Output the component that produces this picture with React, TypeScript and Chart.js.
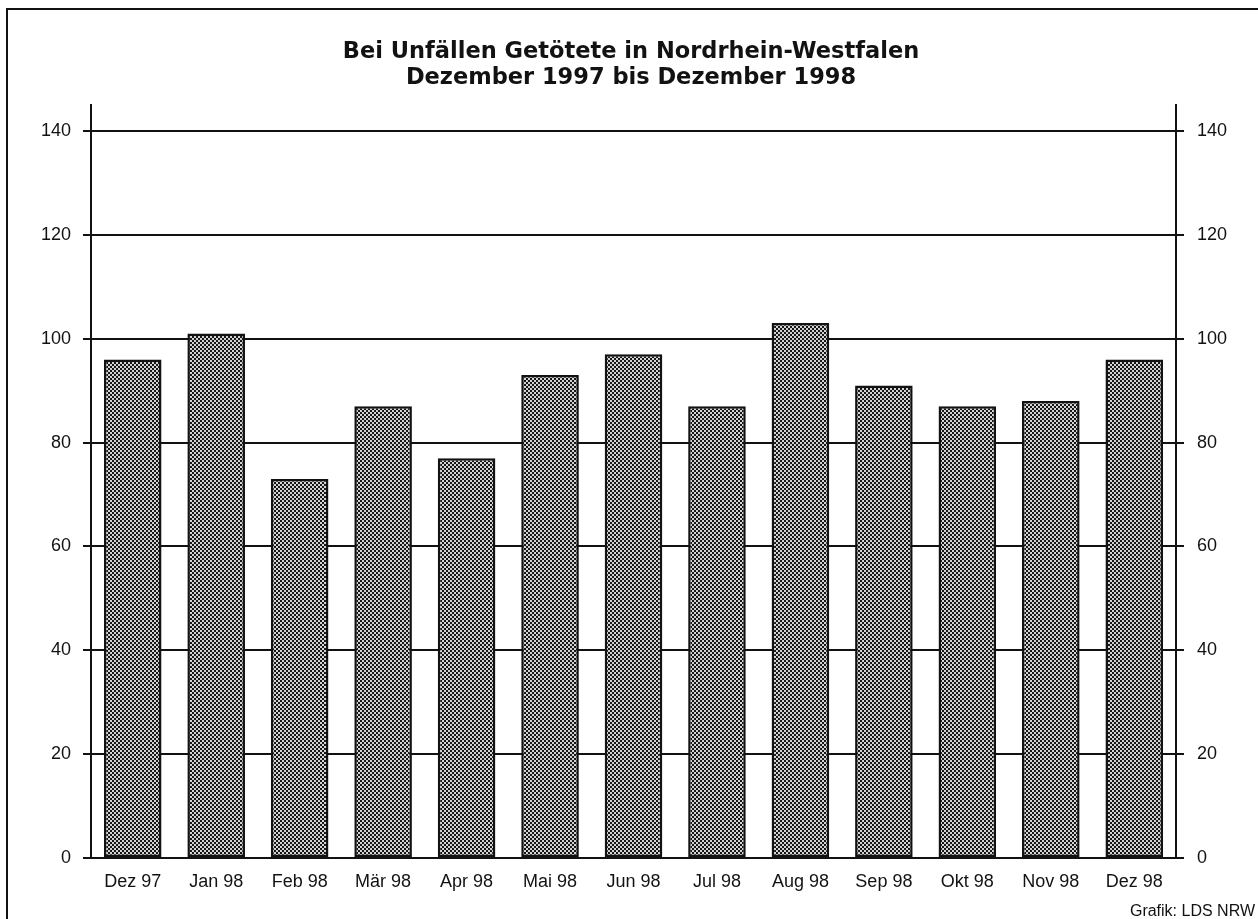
import React, { useEffect, useRef } from "react";
import { Chart, registerables } from "chart.js";

Chart.register(...registerables);

const categories = ["Dez 97", "Jan 98", "Feb 98", "Mär 98", "Apr 98", "Mai 98", "Jun 98", "Jul 98", "Aug 98", "Sep 98", "Okt 98", "Nov 98", "Dez 98"];
const killed = [96, 101, 73, 87, 77, 93, 97, 87, 103, 91, 87, 88, 96];
const yTickValues = [0, 20, 40, 60, 80, 100, 120, 140];
const titleLines = ["Bei Unfällen Getötete in Nordrhein-Westfalen", "Dezember 1997 bis Dezember 1998"];
const creditText = "Grafik: LDS NRW";

const W = 1258;
const H = 919;
const INK = "#121212";

function makePattern(ctx: CanvasRenderingContext2D) {
  const c = document.createElement("canvas");
  c.width = 4;
  c.height = 4;
  const p = c.getContext("2d")!;
  p.fillStyle = "#d4d4d4";
  p.fillRect(0, 0, 4, 4);
  p.fillStyle = "#161616";
  p.fillRect(0, 0, 2, 2);
  p.fillRect(2, 2, 2, 2);
  return ctx.createPattern(c, "repeat");
}

const decorPlugin = {
  id: "decor",
  beforeDraw(chart: any) {
    const ctx = chart.ctx as CanvasRenderingContext2D;
    ctx.save();
    ctx.fillStyle = "#ffffff";
    ctx.fillRect(0, 0, chart.width, chart.height);
    ctx.restore();
  },
  afterDraw(chart: any) {
    const ctx = chart.ctx as CanvasRenderingContext2D;
    ctx.save();
    ctx.strokeStyle = INK;
    ctx.lineWidth = 2;
    ctx.beginPath();
    ctx.moveTo(7, H);
    ctx.lineTo(7, 9);
    ctx.lineTo(W, 9);
    ctx.stroke();

    ctx.fillStyle = INK;
    ctx.textAlign = "center";
    ctx.textBaseline = "alphabetic";
    ctx.font = 'bold 22.5px "DejaVu Sans"';
    ctx.fillText(titleLines[0], 631, 58);
    ctx.fillText(titleLines[1], 631, 84);

    ctx.textAlign = "right";
    ctx.font = '16px "Liberation Sans", Arial';
    ctx.fillText(creditText, 1255, 916);
    ctx.restore();
  },
};

export default function App() {
  const ref = useRef<HTMLCanvasElement | null>(null);

  useEffect(() => {
    const canvas = ref.current!;
    const ctx = canvas.getContext("2d")!;
    const pattern = makePattern(ctx);
    const tickFont = { family: '"Liberation Sans", Arial', size: 18 };
    const setTicks = (scale: any) => {
      scale.ticks = yTickValues.map((v) => ({ value: v }));
    };

    const chart = new Chart(ctx, {
      type: "bar",
      data: {
        labels: categories,
        datasets: [
          {
            data: killed,
            backgroundColor: pattern as any,
            borderColor: INK,
            borderWidth: 2.5,
            borderSkipped: false,
            categoryPercentage: 1,
            barPercentage: 0.69,
            yAxisID: "y",
          },
        ],
      },
      options: {
        responsive: false,
        animation: false,
        devicePixelRatio: 1,
        layout: { padding: { top: 105, left: 0, right: 0, bottom: 0 } },
        plugins: {
          legend: { display: false },
          title: { display: false },
          tooltip: { enabled: false },
        },
        scales: {
          x: {
            grid: { display: false, drawTicks: false },
            border: { display: true, color: INK, width: 2 },
            ticks: { color: INK, font: tickFont, padding: 13, maxRotation: 0, autoSkip: false },
            afterFit: (scale: any) => {
              scale.height = 61;
            },
          },
          y: {
            position: "left",
            min: 0,
            max: 145,
            afterBuildTicks: setTicks,
            grid: { color: INK, lineWidth: 2, tickLength: 8, drawTicks: true },
            border: { display: true, color: INK, width: 2 },
            ticks: { color: INK, font: tickFont, padding: 12 },
            afterFit: (scale: any) => {
              scale.width = 91;
            },
          },
          y2: {
            position: "right",
            min: 0,
            max: 145,
            afterBuildTicks: setTicks,
            grid: { color: INK, lineWidth: 2, tickLength: 8, drawTicks: true, drawOnChartArea: false },
            border: { display: true, color: INK, width: 2 },
            ticks: { color: INK, font: tickFont, padding: 13 },
            afterFit: (scale: any) => {
              scale.width = W - 1176;
            },
          },
        },
      },
      plugins: [decorPlugin],
    });

    return () => chart.destroy();
  }, []);

  return (
    <div style={{ position: "fixed", left: 0, top: 0, width: W, height: H, background: "#fff" }}>
      <canvas ref={ref} width={W} height={H} style={{ width: W, height: H, display: "block" }} />
    </div>
  );
}
